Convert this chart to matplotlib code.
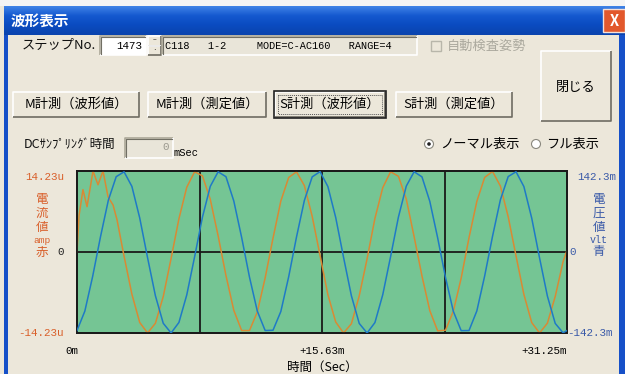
import matplotlib
matplotlib.use("Agg")
import matplotlib.pyplot as plt
from matplotlib.patches import Rectangle, Circle
from matplotlib.colors import LinearSegmentedColormap
import numpy as np

plt.rcParams['font.family'] = ['Noto Sans CJK JP', 'DejaVu Sans']

# ---------------- data ----------------
current_full_scale = 14.23    # u (amp)
voltage_full_scale = 142.3    # m (vlt)
time_max = 31.25              # ms
x_tick_labels = ["0m", "+15.63m", "+31.25m"]

# current (red/orange trace), µA
current_t = [0.0, 0.13, 0.38, 0.64, 1.02, 1.34, 1.66, 1.98, 2.30, 2.55,
             3.0, 3.5, 4.0, 4.5, 5.0, 5.5, 6.0, 6.5, 7.0, 7.5, 8.0, 8.5, 9.0, 9.5,
             10.0, 10.5, 11.0, 11.5, 12.0, 12.5, 13.0, 13.5, 14.0, 14.5, 15.0, 15.5,
             16.0, 16.5, 17.0, 17.5, 18.0, 18.5, 19.0, 19.5, 20.0, 20.5, 21.0, 21.5,
             22.0, 22.5, 23.0, 23.5, 24.0, 24.5, 25.0, 25.5, 26.0, 26.5, 27.0, 27.5,
             28.0, 28.5, 29.0, 29.5, 30.0, 30.5, 31.0, 31.25]
current_v = [0.0, 6.40, 10.96, 7.97, 14.23, 11.81, 14.23, 9.68, 8.25, 5.69,
             -0.71, -7.40, -12.38, -14.23, -12.52, -7.83, -1.14, 5.83, 11.38, 14.09, 13.38, 9.25, 2.85, -4.13,
             -10.25, -13.80, -13.80, -10.53, -4.55, 2.42, 8.96, 13.09, 14.09, 11.67, 6.26, -0.60,
             -7.50, -12.30, -14.23, -12.60, -7.70, -1.20, 5.90, 11.30, 14.10, 13.30, 9.30, 2.70,
             -4.20, -10.30, -13.85, -13.75, -10.40, -4.60, 2.50, 8.90, 13.10, 14.15, 11.60, 6.20,
             -0.70, -7.45, -12.40, -14.23, -12.50, -7.80, -1.70, 0.30]

# voltage (blue trace), mV
voltage_t = [0.0, 0.5, 1.0, 1.5, 2.0, 2.5, 3.0, 3.5, 4.0, 4.5, 5.0, 5.5, 6.0, 6.5,
             7.0, 7.5, 8.0, 8.5, 9.0, 9.5, 10.0, 10.5, 11.0, 11.5, 12.0, 12.5, 13.0,
             13.5, 14.0, 14.5, 15.0, 15.5, 16.0, 16.5, 17.0, 17.5, 18.0, 18.5, 19.0,
             19.5, 20.0, 20.5, 21.0, 21.5, 22.0, 22.5, 23.0, 23.5, 24.0, 24.5, 25.0,
             25.5, 26.0, 26.5, 27.0, 27.5, 28.0, 28.5, 29.0, 29.5, 30.0, 30.5, 31.0, 31.25]
voltage_v = [-138.0, -103.9, -42.7, 27.0, 91.1, 132.3, 140.9, 115.3, 59.8, -10.0, -76.8, -125.2, -142.3, -123.8,
             -75.4, -8.5, 61.2, 115.3, 140.9, 132.3, 89.6, 25.6, -44.1, -103.9, -138.0, -137.5, -104.5,
             -43.5, 26.5, 90.5, 132.0, 141.2, 115.0, 60.5, -9.5, -77.0, -125.5, -142.3, -124.0,
             -75.0, -8.0, 61.5, 115.8, 141.0, 132.0, 89.0, 25.0, -44.5, -104.2, -138.2, -138.0,
             -103.5, -42.0, 27.5, 91.5, 132.5, 141.0, 115.0, 59.5, -10.5, -77.5, -125.5, -142.0, -138.0]

# ---------------- figure ----------------
W, H = 625, 374
fig = plt.figure(figsize=(W / 100, H / 100), dpi=100)
BG = '#ECE7DA'
fig.patch.set_facecolor(BG)
ui = fig.add_axes([0, 0, 1, 1])
ui.set_xlim(0, W)
ui.set_ylim(H, 0)
ui.axis('off')

MONO = ['Liberation Mono', 'DejaVu Sans Mono']
JP = ['Noto Sans CJK JP', 'DejaVu Sans']


def rect(x, y, w, h, fc, ec='none', lw=0, z=1):
    ui.add_patch(Rectangle((x, y), w, h, facecolor=fc, edgecolor=ec, linewidth=lw, zorder=z))


def bevel(x, y, w, h, raised=True, fc=BG, z=2):
    rect(x, y, w, h, fc, z=z)
    light, dark, mid = '#FFFFFF', '#6E6C62', '#ACA899'
    tl, br = (light, dark) if raised else (mid, light)
    ui.plot([x, x, x + w], [y + h, y, y], color=tl, lw=1.2, zorder=z + 1, solid_capstyle='butt')
    ui.plot([x, x + w, x + w], [y + h, y + h, y], color=br, lw=1.2, zorder=z + 1, solid_capstyle='butt')
    if not raised:
        ui.plot([x + 1, x + 1, x + w - 1], [y + h - 1, y + 1, y + 1], color='#716F64', lw=0.8, zorder=z + 1)


# window frame / title bar
grad = np.linspace(0, 1, 40).reshape(-1, 1)
cm = LinearSegmentedColormap.from_list('tb', ['#3F82E6', '#1458CF', '#0A4BC0', '#0A44AE'])
ui.imshow(grad, extent=[4, W, 35, 6], cmap=cm, aspect='auto', zorder=1)
rect(0, 0, W, 6, '#F4F4F4', z=1)
rect(4, 35, 4, H - 35, '#1650C8', z=3)
rect(619, 35, 6, H - 35, '#1650C8', z=3)
ui.text(11, 21, "波形表示", color='white', fontsize=10.5, fontweight='bold', family=JP, va='center', zorder=5)
rect(603, 9, 22, 23, '#E2582C', ec='#F4E0D8', lw=1, z=5)
ui.text(614, 21, "X", color='white', fontsize=10.5, fontweight='bold', ha='center', va='center', zorder=6)

# row 1
ui.text(22, 45, "ステップNo.", fontsize=9.5, family=JP, va='center', color='#111111')
bevel(100, 36, 46, 19, raised=False, fc='white')
ui.text(142, 46, "1473", fontsize=7.8, family=MONO, ha='right', va='center', zorder=6)
bevel(148, 36, 13, 9.5, raised=True)
bevel(148, 45.5, 13, 9.5, raised=True)
ui.text(154.5, 40.5, "–", fontsize=5, ha='center', va='center', zorder=6)
ui.text(154.5, 50.5, "·", fontsize=6, ha='center', va='center', zorder=6)
bevel(162, 36, 255, 19, raised=False, fc='#E9E5D9')
ui.text(165, 46, "C118   1-2     MODE=C-AC160   RANGE=4", fontsize=7.4, family=MONO, va='center', zorder=6)
rect(431, 41, 10, 10, 'none', ec='#B8B6AA', lw=1, z=4)
ui.text(447, 46, "自動検査姿勢", fontsize=9.5, family=JP, va='center', color='#ABA99E')

bevel(541, 51, 70, 70, raised=True)
ui.text(576, 87, "閉じる", fontsize=9.5, family=JP, ha='center', va='center', zorder=6)

# row 2: buttons
buttons = [("M計測（波形値）", 13, 126), ("M計測（測定値）", 148, 118),
           ("S計測（波形値）", 275, 110), ("S計測（測定値）", 396, 116)]
for i, (lab, bx, bw) in enumerate(buttons):
    bevel(bx, 92, bw, 25, raised=True)
    if i == 2:
        rect(bx - 1, 91, bw + 2, 27, 'none', ec='#222222', lw=1.2, z=5)
        rect(bx + 3, 95, bw - 6, 19, 'none', ec='#555555', lw=0.7, z=5)
        ui.patches[-1].set_linestyle((0, (1, 1)))
    ui.text(bx + bw / 2, 104.5, lab, fontsize=9.5, family=JP, ha='center', va='center', zorder=6)

# row 3
ui.text(24, 144, "DCｻﾝﾌﾟﾘﾝｸﾞ時間", fontsize=9, family=JP, va='center', color='#111111')
bevel(125, 138, 48, 20, raised=False, fc='#E9E5D9')
ui.text(169, 147, "0", fontsize=7.8, family=MONO, ha='right', va='center', color='#9A988E', zorder=6)
ui.text(174, 153, "mSec", fontsize=7.5, family=MONO, va='center')
ui.add_patch(Circle((429, 144), 4.5, facecolor='white', edgecolor='#8A887E', lw=0.8, zorder=4))
ui.add_patch(Circle((429, 144), 1.8, facecolor='#222222', zorder=5))
ui.text(440, 144, "ノーマル表示", fontsize=9.5, family=JP, va='center')
ui.add_patch(Circle((536, 144), 4.5, facecolor='white', edgecolor='#8A887E', lw=0.8, zorder=4))
ui.text(546, 144, "フル表示", fontsize=9.5, family=JP, va='center')

# axis side labels
RED = '#D9602B'
BLUE = '#3A5AA8'
ui.text(64, 177, "14.23u", fontsize=7.8, family=MONO, ha='right', va='center', color=RED)
ui.text(64, 333, "-14.23u", fontsize=7.8, family=MONO, ha='right', va='center', color=RED)
ui.text(61, 252, "0", fontsize=7.8, family=MONO, ha='center', va='center', color='#222222')
for ch, yy in zip("電流値", [199, 213, 227]):
    ui.text(42, yy, ch, fontsize=9, family=JP, ha='center', va='center', color=RED)
ui.text(42, 240, "amp", fontsize=6.8, family=MONO, ha='center', va='center', color=RED)
ui.text(42, 252, "赤", fontsize=9, family=JP, ha='center', va='center', color=RED)

ui.text(577, 177, "142.3m", fontsize=7.8, family=MONO, ha='left', va='center', color=BLUE)
ui.text(567, 333, "-142.3m", fontsize=7.8, family=MONO, ha='left', va='center', color=BLUE)
ui.text(569, 252, "0", fontsize=7.8, family=MONO, ha='left', va='center', color=BLUE)
for ch, yy in zip("電圧値", [199, 213, 227]):
    ui.text(599, yy, ch, fontsize=9, family=JP, ha='center', va='center', color=BLUE)
ui.text(599, 240, "vlt", fontsize=7.2, family=MONO, ha='center', va='center', color=BLUE)
ui.text(599, 252, "青", fontsize=9, family=JP, ha='center', va='center', color=BLUE)

# ---------------- chart ----------------
L, T, R, B = 77, 171, 567, 333
ax = fig.add_axes([L / W, 1 - B / H, (R - L) / W, (B - T) / H])
ax.set_facecolor('#75C594')
ax.set_xlim(0, time_max)
ax.set_ylim(-current_full_scale, current_full_scale)
for q in (1, 2, 3):
    ax.axvline(time_max * q / 4, color='#1A1A1A', lw=1.3, zorder=1)
ax.axhline(0, color='#1A1A1A', lw=1.3, zorder=1)
ax.plot(current_t, current_v, color='#D98A34', lw=1.1, zorder=3)
ax2 = ax.twinx()
ax2.set_ylim(-voltage_full_scale, voltage_full_scale)
ax2.plot(voltage_t, voltage_v, color='#1F7AC6', lw=1.1, zorder=3)
for a in (ax, ax2):
    a.set_xticks([])
    a.set_yticks([])
    for s in a.spines.values():
        s.set_color('#1A1A1A')
        s.set_linewidth(1.3)

# x tick labels
xt = [0, time_max / 2, time_max]
xf = ax.get_xaxis_transform()
ax.text(xt[0] - 0.3, -0.11, x_tick_labels[0], transform=xf, ha='center', va='center',
        fontsize=7.8, family=MONO)
ax.text(xt[1], -0.11, x_tick_labels[1], transform=xf, ha='center', va='center',
        fontsize=7.8, family=MONO)
ax.text(xt[2], -0.11, x_tick_labels[2], transform=xf, ha='right', va='center',
        fontsize=7.8, family=MONO)
ax.text(xt[1], -0.21, "時間（Sec）", transform=xf, ha='center', va='center',
        fontsize=9, family=JP)

fig.savefig("out.png", dpi=100, facecolor=fig.get_facecolor())
